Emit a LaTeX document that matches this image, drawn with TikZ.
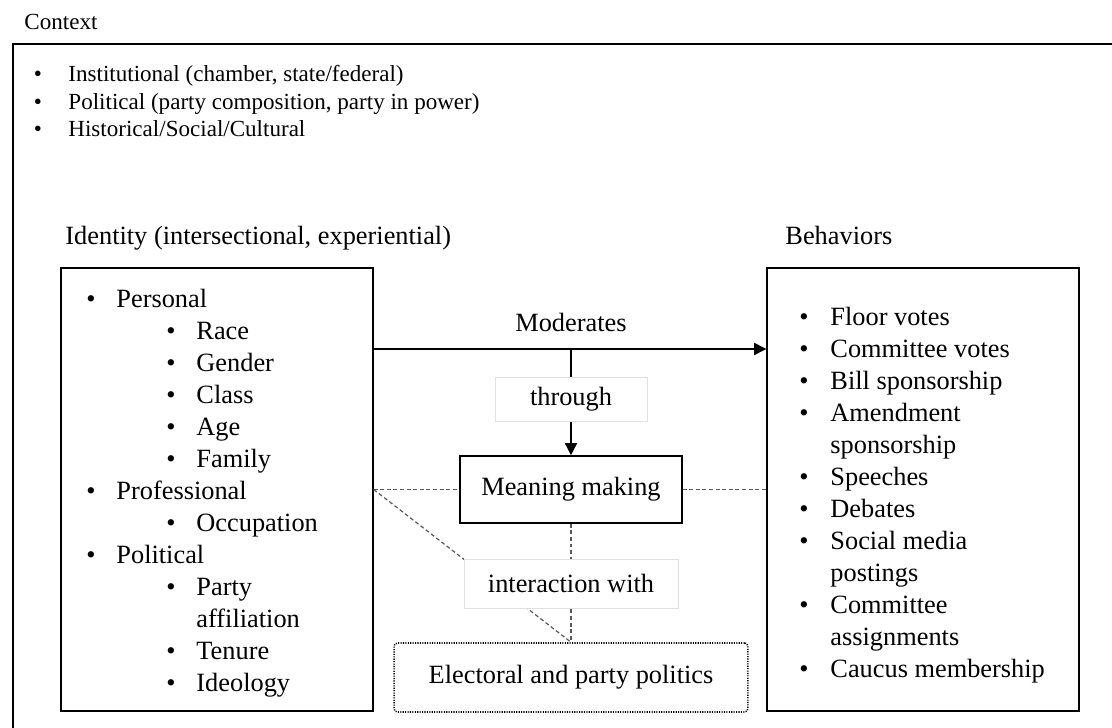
\documentclass[tikz,border=0pt]{standalone}
\usepackage{fontspec}
\setmainfont{Liberation Serif}
\usetikzlibrary{arrows.meta}

\newcommand{\bigtxt}{\fontsize{12}{14}\selectfont}
\newcommand{\smalltxt}{\fontsize{10.5}{12.5}\selectfont}

\begin{document}
\begin{tikzpicture}[x=0.016cm, y=-0.016cm,
  bigbox/.style={draw, line width=0.7pt, minimum width=4.992cm, minimum height=7.088cm},
  item/.style={anchor=base west, inner sep=0pt, font=\bigtxt},
  dot/.style={anchor=base, inner sep=0pt, font=\bigtxt},
  link/.style={draw=black!65, dash pattern=on 1.8pt off 1.2pt, line width=0.55pt},
  pale/.style={draw=black!12, fill=white, line width=0.4pt, font=\bigtxt},
  tip/.style={-{Triangle[length=5.5pt,width=5.5pt]}, line width=0.6pt}]
\useasboundingbox (0,0) rectangle (1112,728);
\clip (0,0) rectangle (1112,728);

% context frame
\node[anchor=base west, inner sep=0pt, font=\smalltxt] (ctx) at (24,30) {Context};
\draw[line width=0.8pt] (13,760) -- (13,44) -- (1140,44);
\foreach \t [count=\i] in {{Institutional (chamber, state/federal)},
    {Political (party composition, party in power)},
    {Historical/Social/Cultural}}{
  \node[anchor=base, inner sep=0pt, font=\smalltxt] (ctxb\i) at (38,82+27.5*\i-27.5) {\textbullet};
  \node[anchor=base west, inner sep=0pt, font=\smalltxt] (ctx\i) at (68,82+27.5*\i-27.5) {\t};
}

% identity
\node[item] (idlab) at (65,245) {Identity (intersectional, experiential)};
\node[bigbox] (idbox) at (217,489.5) {};
\foreach \x/\t/\y/\b [count=\i] in {116/Personal/308/1, 196/Race/340/1,
    196/Gender/372/1, 196/Class/404/1, 196/Age/436/1, 196/Family/468/1,
    116/Professional/500/1, 196/Occupation/532/1, 116/Political/564/1,
    196/Party/596/1, 196/affiliation/628/0, 196/Tenure/660/1, 196/Ideology/692/1}{
  \node[item] (id\i) at (\x,\y) {\t};
  \ifnum\b=1 \node[dot] (idb\i) at (\x-25,\y) {\textbullet}; \fi
}

% behaviors
\node[item] (behlab) at (785,245) {Behaviors};
\node[bigbox] (behbox) at (923,489.5) {};
\foreach \t/\y/\b [count=\i] in {Floor votes/326/1, Committee votes/358/1,
    Bill sponsorship/390/1, Amendment/422/1, sponsorship/454/0,
    Speeches/486/1, Debates/518/1, Social media/550/1, postings/582/0,
    Committee/614/1, assignments/646/0, Caucus membership/678/1}{
  \node[item] (beh\i) at (830,\y) {\t};
  \ifnum\b=1 \node[dot] (behb\i) at (804,\y) {\textbullet}; \fi
}

% middle
\node[draw, line width=0.7pt, minimum width=3.552cm, minimum height=1.072cm, font=\bigtxt] (mean) at (571,489.5) {Meaning making};
\node[draw, line width=0.7pt, dash pattern=on 0.5pt off 0.6pt, rounded corners=1.5pt,
  minimum width=5.664cm, minimum height=1.104cm, font=\bigtxt] (elect) at (571,677.5) {Electoral and party politics};
\node[anchor=base, font=\bigtxt, inner sep=0pt] (moder) at (571,332) {Moderates};

\coordinate (modline) at (0,349);
\draw[tip] (idbox.east |- modline) -- (behbox.west |- modline);
\draw[tip] (mean.north |- modline) -- (mean.north);
\node[pale, minimum width=2.432cm, minimum height=0.704cm] (thru) at (571,399) {through};

\draw[link] (idbox.east) -- (mean.west);
\draw[link] (mean.east) -- (behbox.west);
\draw[link] (idbox.east) -- (elect.north);
\draw[link] (mean.south) -- (elect.north);
\node[pale, minimum width=3.424cm, minimum height=0.784cm] (inter) at (571,583.5) {interaction with};
\end{tikzpicture}
\end{document}
